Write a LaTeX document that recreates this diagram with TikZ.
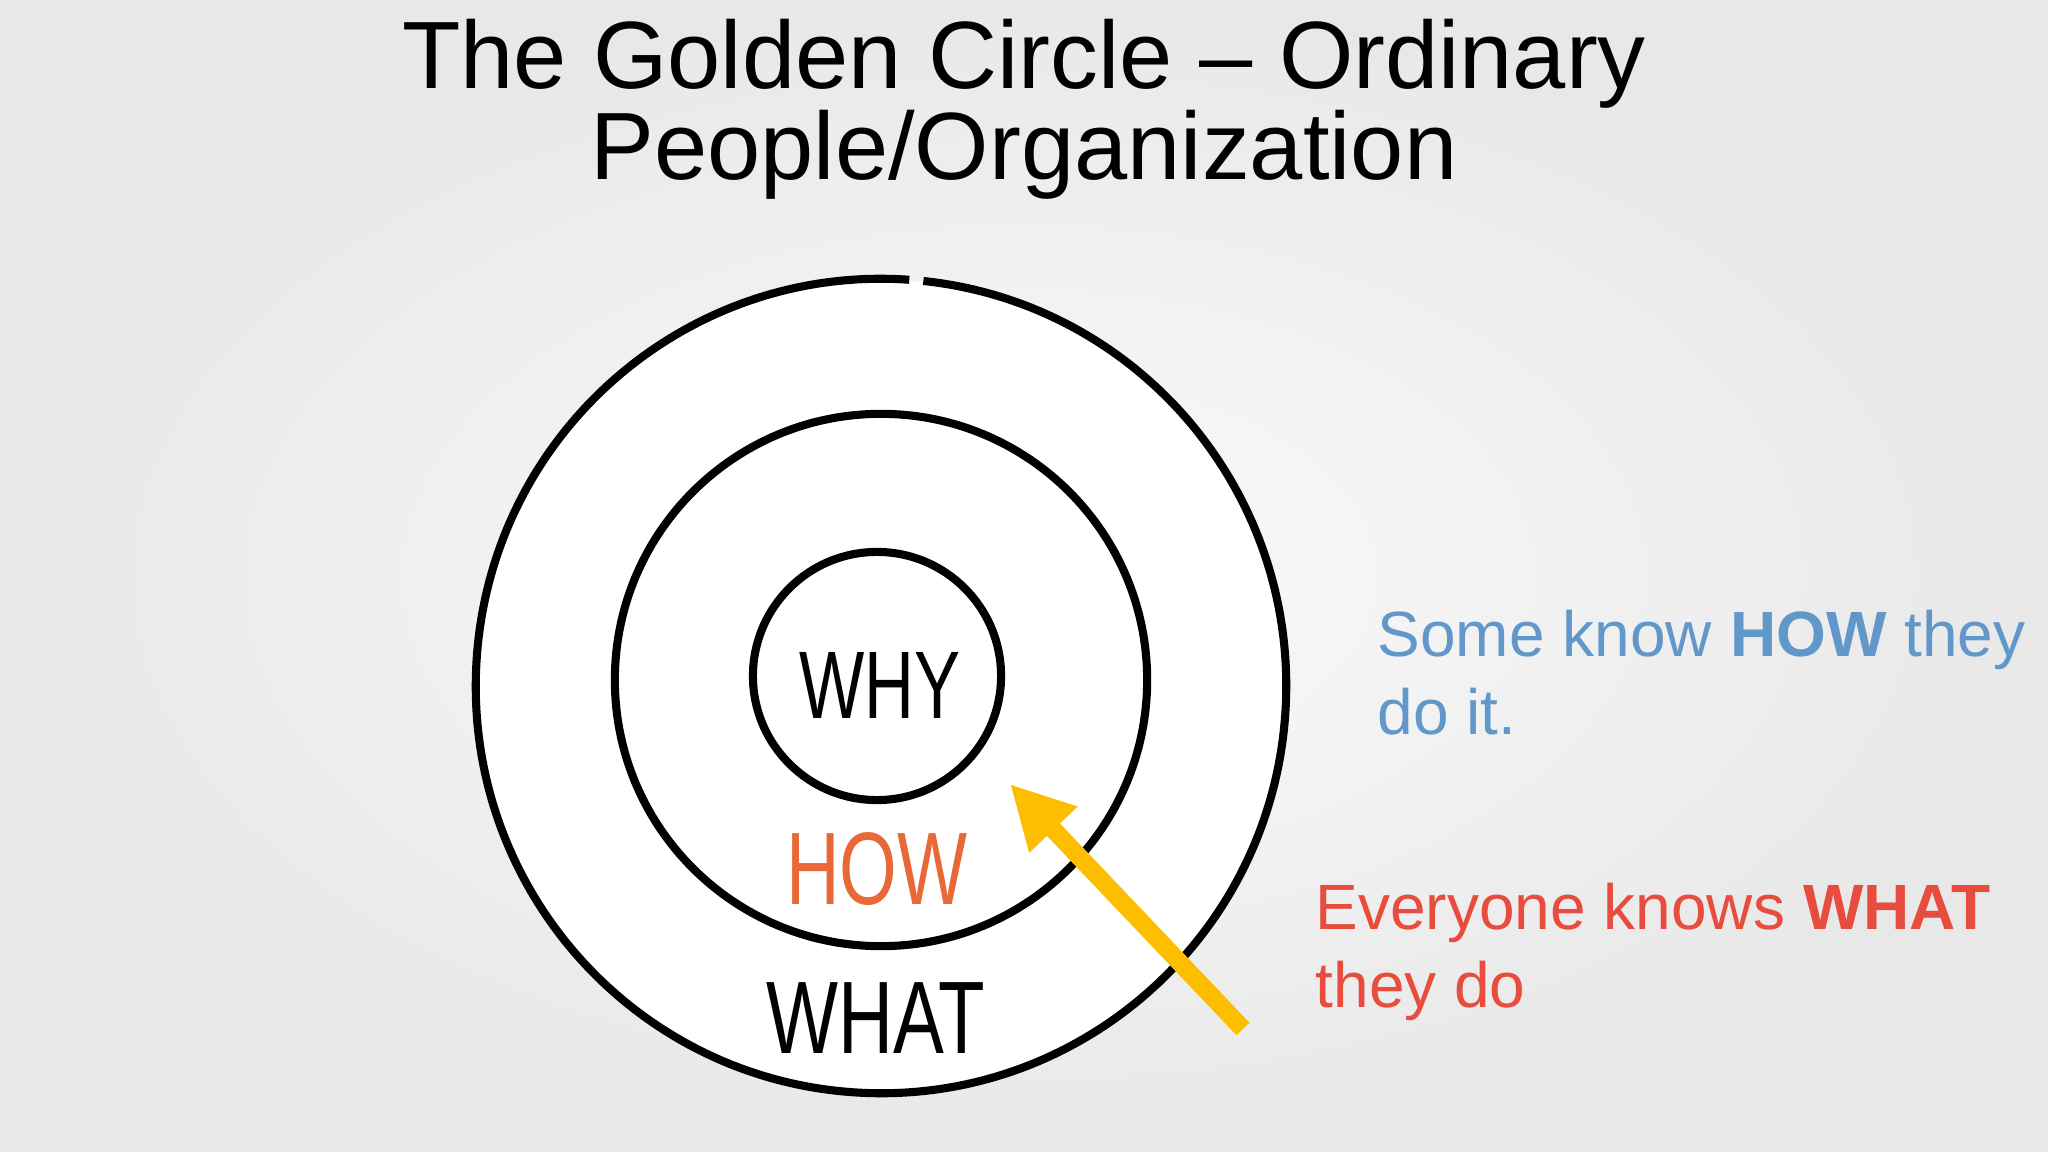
\documentclass[tikz,border=0pt]{standalone}
\usepackage{fontspec}
\usepackage{graphicx}
\setmainfont{Liberation Sans}
\usetikzlibrary{arrows.meta}
\definecolor{howblue}{RGB}{98,151,202}
\definecolor{whatred}{RGB}{231,76,60}
\definecolor{howorange}{RGB}{232,104,56}
\definecolor{arrowgold}{RGB}{253,190,0}
\definecolor{bgedge}{RGB}{232,232,232}
\definecolor{bgmid}{RGB}{251,251,251}
\tikzset{
  ring/.style={circle,draw=black,line width=2.3pt,fill=white,inner sep=0pt},
  ringline/.style={draw=black,line width=2.3pt},
  hand/.style={anchor=base,inner sep=0pt},
  titletext/.style={anchor=base,inner sep=0pt,font=\fontsize{27.2}{26}\selectfont},
  sidetext/.style={anchor=base west,inner sep=0pt,align=left,font=\fontsize{18.2}{21.9}\selectfont},
  pointer/.style={-{Triangle[length=0.63cm,width=0.62cm]},line width=0.18cm,draw=arrowgold}
}
\begin{document}
\begin{tikzpicture}[x=0.01cm,y=-0.01cm]
\useasboundingbox (0,0) rectangle (2048,1152);
\shade[inner color=bgmid,outer color=bgedge] (0,0) rectangle (2048,1152);
\node[titletext] (title1) at (1024,89) {The Golden Circle -- Ordinary};
\node[titletext] (title2) at (1024,180) {People/Organization};
\node[circle,fill=white,inner sep=0pt,minimum size=8.12cm] (what) at (881,686) {};
\draw[ringline] (what.center) ++(86:4.05cm and 4.07cm) arc[start angle=86,end angle=444,x radius=4.05cm,y radius=4.07cm];
\node[ring,minimum size=5.32cm] (how) at (881,680) {};
\node[ring,minimum size=2.48cm] (why) at (877,676) {};
\node[hand,font=\fontsize{27.3}{27.3}\selectfont] (whylabel) at (880,718) {\scalebox{.72}[1]{WHY}};
\node[hand,font=\fontsize{29.3}{29.3}\selectfont,text=howorange] (howlabel) at (877,904) {\scalebox{.72}[1]{HOW}};
\node[hand,font=\fontsize{29.3}{29.3}\selectfont] (whatlabel) at (876,1053) {\scalebox{.74}[1]{WHAT}};
\coordinate (tail) at (1243,1029);
\coordinate (tip) at (1010,784);
\draw[pointer] (tail) -- (tip);
\node[sidetext,text=howblue] (someknow) at (1377,734) {Some know \textbf{HOW} they\\do it.};
\node[sidetext,text=whatred] (everyone) at (1315,1007) {Everyone knows \textbf{WHAT}\\they do};
\end{tikzpicture}
\end{document}
